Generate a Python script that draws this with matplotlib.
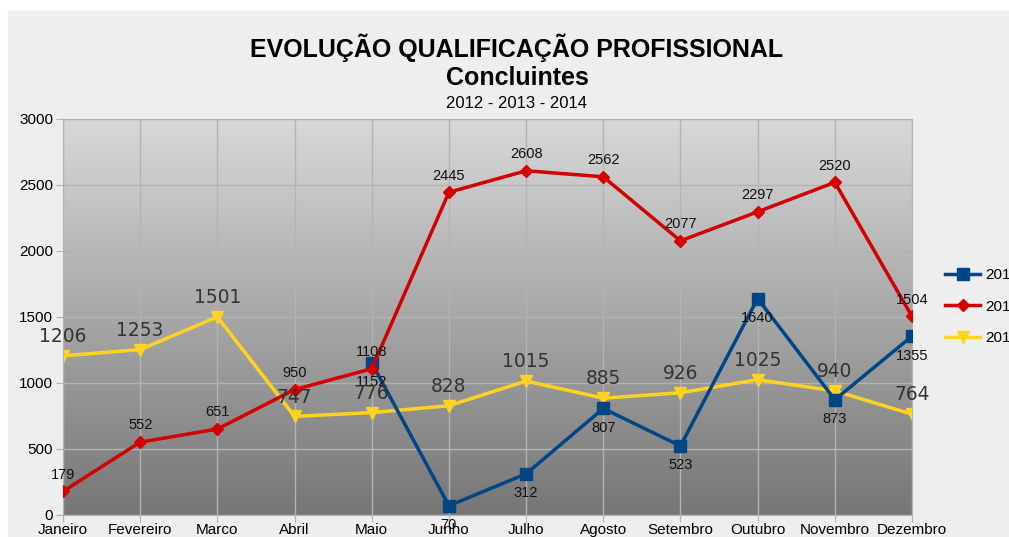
import numpy as np
import matplotlib.pyplot as plt
from matplotlib.patches import Rectangle
from matplotlib.colors import LinearSegmentedColormap

meses = ['Janeiro', 'Fevereiro', 'Marco', 'Abril', 'Maio', 'Junho', 'Julho',
         'Agosto', 'Setembro', 'Outubro', 'Novembro', 'Dezembro']
v2012 = [None, None, None, None, 1152, 70, 312, 807, 523, 1640, 873, 1355]
v2013 = [179, 552, 651, 950, 1108, 2445, 2608, 2562, 2077, 2297, 2520, 1504]
v2014 = [1206, 1253, 1501, 747, 776, 828, 1015, 885, 926, 1025, 940, 764]

plt.rcParams['font.family'] = ['Liberation Sans', 'DejaVu Sans']

fig = plt.figure(figsize=(10.09, 5.37), dpi=100)
fig.patches.append(Rectangle((8 / 1009, 0), 1, 1 - 11 / 537, transform=fig.transFigure,
                             color='#eeeeee', zorder=-10))

ax = fig.add_axes([63 / 1009, 1 - 515 / 537, (912 - 63) / 1009, (515 - 119) / 537])
x = np.arange(len(meses))

# fundo em degradê
grad = np.linspace(0, 1, 256).reshape(-1, 1)
cmap = LinearSegmentedColormap.from_list('g', ['#d8d8d8', '#767676'])
ax.imshow(grad, extent=[0, 11, 0, 3000], aspect='auto', cmap=cmap, origin='upper', zorder=0)

ax.set_xlim(0, 11)
ax.set_ylim(0, 3000)
ax.set_xticks(x)
ax.set_xticklabels(meses, fontsize=11)
ax.set_yticks(range(0, 3001, 500))
ax.tick_params(axis='y', labelsize=11, length=5, color='#b3b3b3', pad=2)
ax.tick_params(axis='x', length=5, color='#b3b3b3', pad=1)
ax.grid(True, color='#b3b3b3', linewidth=1, zorder=1)
for s in ax.spines.values():
    s.set_color('#b3b3b3')

x12 = [i for i, v in enumerate(v2012) if v is not None]
y12 = [v for v in v2012 if v is not None]
ax.plot(x12, y12, color='#004586', lw=2.5, marker='s', ms=8, label='2012', zorder=3)
ax.plot(x, v2013, color='#d40000', lw=2.5, marker='D', ms=6, label='2013', zorder=4)
ax.plot(x, v2014, color='#ffd320', lw=2.5, marker='v', ms=9, label='2014', zorder=2)

for i, v in zip(x12, y12):
    ax.annotate(str(v), (i, v), xytext=(0, -9), textcoords='offset points',
                ha='center', va='top', fontsize=10.5, color='#111111', zorder=6, annotation_clip=False)
for i, v in zip(x, v2013):
    ax.annotate(str(v), (i, v), xytext=(0, 7), textcoords='offset points',
                ha='center', va='bottom', fontsize=10.5, color='#111111', zorder=6, annotation_clip=False)
for i, v in zip(x, v2014):
    ax.annotate(str(v), (i, v), xytext=(0, 7), textcoords='offset points',
                ha='center', va='bottom', fontsize=13.4, color='#333333', family='DejaVu Sans',
                zorder=6, annotation_clip=False)

fig.text(517 / 1009, 1 - 48 / 537, 'EVOLUÇÃO QUALIFICAÇÃO PROFISSIONAL', ha='center', va='center',
         fontsize=18, fontweight='bold')
fig.text(517 / 1009, 1 - 78 / 537, 'Concluintes', ha='center', va='center',
         fontsize=18, fontweight='bold')
fig.text(517 / 1009, 1 - 104 / 537, '2012 - 2013 - 2014', ha='center', va='center', fontsize=12)

fig.legend(loc='upper left', bbox_to_anchor=(939 / 1009, 1 - 262 / 537), frameon=False,
           fontsize=11, handlelength=2.3, labelspacing=1.15, borderaxespad=0, handletextpad=0.3)

fig.savefig('out.png', dpi=100)
